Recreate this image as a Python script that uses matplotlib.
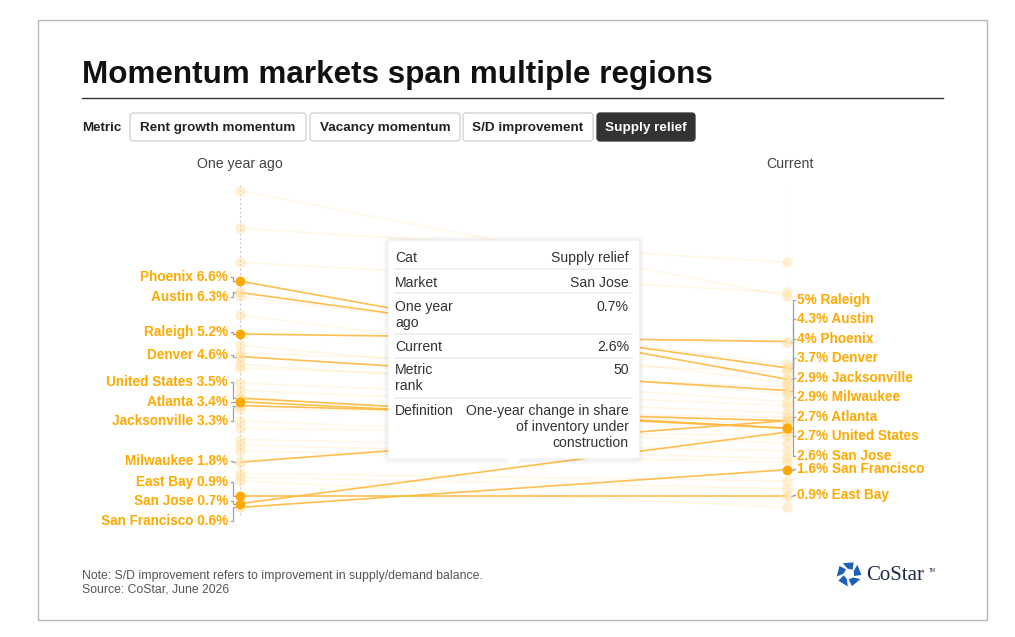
import numpy as np
import matplotlib.pyplot as plt
import matplotlib.transforms as mtransforms
from matplotlib.patches import Rectangle, FancyBboxPatch, Polygon

plt.rcParams['font.family'] = ['Liberation Sans', 'DejaVu Sans']

# --- data -------------------------------------------------------------
markets = ['Phoenix', 'Austin', 'Raleigh', 'Denver', 'United States', 'Atlanta',
           'Jacksonville', 'Milwaukee', 'East Bay', 'San Jose', 'San Francisco']
year_ago = [6.6, 6.3, 5.2, 4.6, 3.5, 3.4, 3.3, 1.8, 0.9, 0.7, 0.6]
current = [4.0, 4.3, 5.0, 3.7, 2.7, 2.7, 2.9, 2.9, 0.9, 2.6, 1.6]

# unlabelled background markets
other_ago = [9.0, 8.0, 7.1, 6.2, 5.7, 4.9, 4.7, 4.4, 4.3, 3.9, 3.7,
             3.45, 3.2, 2.9, 2.7, 2.4, 2.25, 2.1, 1.5, 1.4, 1.3]
other_now = [6.2, 7.1, 6.3, 4.4, 3.9, 3.6, 4.2, 3.4, 3.8, 3.3, 3.1,
             2.8, 3.0, 2.3, 2.5, 2.1, 1.9, 1.8, 1.3, 1.1, 0.6]

metrics = ['Rent growth momentum', 'Vacancy momentum', 'S/D improvement', 'Supply relief']
active_metric = 'Supply relief'

tooltip_rows = [('Cat', 'Supply relief'),
                ('Market', 'San Jose'),
                ('One year\nago', '0.7%'),
                ('Current', '2.6%'),
                ('Metric\nrank', '50'),
                ('Definition', 'One-year change in share\nof inventory under\nconstruction')]

# --- layout (label positions after de-overlap, in % units) -------------
left_label_y = [6.71, 6.19, 5.25, 4.64, 3.93, 3.40, 2.90, 1.83, 1.27, 0.77, 0.24]
right_label_y = [5.07, 5.60, 6.11, 4.56, 2.49, 3.00, 4.03, 3.53, 0.93, 1.96, 1.62]
left_solid = [True, False, True, False, False, True, False, False, True, True, False]
right_solid = [False, False, False, False, True, True, False, False, False, False, True]

W, H = 1015, 637
ORANGE = '#FFAA00'
fig = plt.figure(figsize=(W / 100, H / 100), dpi=100)

# slope chart axes: x 240..787 px, y=0 at 530 px, 37.7 px per %
ax = fig.add_axes([240 / W, (H - 530) / H, 547 / W, 37.7 * 9.5 / H])
ax.set_xlim(0, 1)
ax.set_ylim(0, 9.5)
ax.axis('off')

# overlay axes in pixel coords (y down)
ov = fig.add_axes([0, 0, 1, 1])
ov.set_xlim(0, W)
ov.set_ylim(H, 0)
ov.axis('off')
ov.patch.set_alpha(0)

bt = mtransforms.blended_transform_factory(ov.transData, ax.transData)

# axes lines
for x in (0, 1):
    ax.plot([x, x], [0.4, 9.2], ls=(0, (1.5, 2)), color='#c8c8c8', lw=0.9, zorder=1)

# background markets
for a, c in zip(other_ago, other_now):
    ax.plot([0, 1], [a, c], color=ORANGE, alpha=0.09, lw=1.3, zorder=2)
ax.scatter(np.zeros(len(other_ago)), other_ago, s=58, color='#FFDF9E', alpha=0.45,
           zorder=3, linewidths=0, clip_on=False)
ax.scatter(np.ones(len(other_now)), other_now, s=58, color='#FFDF9E', alpha=0.45,
           zorder=3, linewidths=0, clip_on=False)

# highlighted markets
for i, m in enumerate(markets):
    ax.plot([0, 1], [year_ago[i], current[i]], color='#FFB83D', lw=1.2, alpha=0.9, zorder=4)
    for x, v, solid in ((0, year_ago[i], left_solid[i]), (1, current[i], right_solid[i])):
        if solid:
            ax.scatter([x], [v], s=50, color=ORANGE, zorder=6, linewidths=0, clip_on=False)
        else:
            ax.scatter([x], [v], s=58, color='#FFDF9E', alpha=0.6, zorder=5,
                       linewidths=0, clip_on=False)

    # left label + connector
    ly = left_label_y[i]
    ax.text(228, ly, f'{m} {year_ago[i]:g}%', transform=bt, ha='right', va='center',
            fontsize=9.8, fontweight='bold', color=ORANGE, zorder=7)
    ax.plot([231, 233, 233, 236], [ly, ly, year_ago[i], year_ago[i]], transform=bt,
            color='#a0a0a0', lw=0.9, clip_on=False, zorder=3)

    # right label + connector
    ry = right_label_y[i]
    ax.text(797, ry, f'{current[i]:g}% {m}', transform=bt, ha='left', va='center',
            fontsize=9.8, fontweight='bold', color=ORANGE, zorder=7)
    ax.plot([791, 793, 793, 795], [current[i], current[i], ry, ry], transform=bt,
            color='#a0a0a0', lw=0.9, clip_on=False, zorder=3)

# --- frame, title, controls -------------------------------------------
ov.add_patch(Rectangle((38, 20), 949, 600, fill=False, ec='#b8b8b8', lw=1))
ov.text(82, 75, 'Momentum markets span multiple regions', fontsize=22.6,
        fontweight='bold', color='#111111', va='center', ha='left')
ov.plot([82, 943], [98, 98], color='#333333', lw=1)

ov.text(82, 128, 'Metric', fontsize=9.6, fontweight='bold', color='#222222', va='center')
btn_x = [(130, 306), (310, 460), (463, 593), (597, 695)]
for (x0, x1), name in zip(btn_x, metrics):
    on = name == active_metric
    ov.add_patch(FancyBboxPatch((x0, 113), x1 - x0, 28,
                                boxstyle='round,pad=0,rounding_size=3',
                                fc='#333333' if on else 'white',
                                ec='#333333' if on else '#cfcfcf', lw=0.9))
    ov.text((x0 + x1) / 2, 128, name, ha='center', va='center', fontsize=9.7,
            fontweight='bold', color='white' if on else '#222222')

ov.text(240, 164, 'One year ago', ha='center', va='center', fontsize=10.2, color='#444444')
ov.text(790, 164, 'Current', ha='center', va='center', fontsize=10.2, color='#444444')

# --- tooltip ----------------------------------------------------------
tx0, ty0, tx1, ty1 = 388, 240, 639, 458
for k, a in enumerate([0.035, 0.025, 0.015, 0.01]):
    ov.add_patch(FancyBboxPatch((tx0 - k - 1, ty0 - k), tx1 - tx0 + 2 * k + 2, ty1 - ty0 + 2 * k + 2,
                                boxstyle='round,pad=0,rounding_size=3', fc='none',
                                ec='black', alpha=a, lw=1.5, zorder=9))
ov.add_patch(Rectangle((tx0, ty0), tx1 - tx0, ty1 - ty0, fc='white', ec='#f0f0f0',
                       lw=0.6, zorder=10))
ov.add_patch(Polygon([(504, 457), (522, 457), (513, 467)], closed=True, fc='white',
                     ec='none', zorder=11))
row_base = [262, 287, 311, 351, 374, 415]
seps = [269, 293, 334, 358, 398]
line_h = 16
for (k, v), y in zip(tooltip_rows, row_base):
    for j, s in enumerate(k.split('\n')):
        ov.text(395, y + j * line_h, s, ha='left', va='baseline', fontsize=10.1,
                color='#333333', zorder=12)
    for j, s in enumerate(v.split('\n')):
        ov.text(629, y + j * line_h, s, ha='right', va='baseline', fontsize=10.1,
                color='#333333', zorder=12)
for y in seps:
    ov.plot([395, 632], [y, y], color='#ececec', lw=1.2, zorder=12)

# --- footer -----------------------------------------------------------
ov.text(82, 576, 'Note: S/D improvement refers to improvement in supply/demand balance.',
        fontsize=8.8, color='#555555', va='center')
ov.text(82, 590, 'Source: CoStar, June 2026', fontsize=8.8, color='#555555', va='center')

# CoStar logo
cx, cy = 849, 574
for k in range(5):
    a0 = np.deg2rad(-90 + 72 * k)
    pts = []
    for r, da in ((5.5, -14), (12.5, -30), (12.5, 22), (5.5, 40)):
        ang = a0 + np.deg2rad(da)
        pts.append((cx + r * np.cos(ang), cy + r * np.sin(ang)))
    ov.add_patch(Polygon(pts, closed=True, fc='#1f5fb8', ec='none'))
ov.text(866, 576, 'CoStar', fontsize=15, family='Liberation Serif', color='#1b2a49',
        va='center', ha='left')
ov.text(929, 570, 'TM', fontsize=3.5, color='#1b2a49', va='center', ha='left')

fig.savefig('out.png', dpi=100)
